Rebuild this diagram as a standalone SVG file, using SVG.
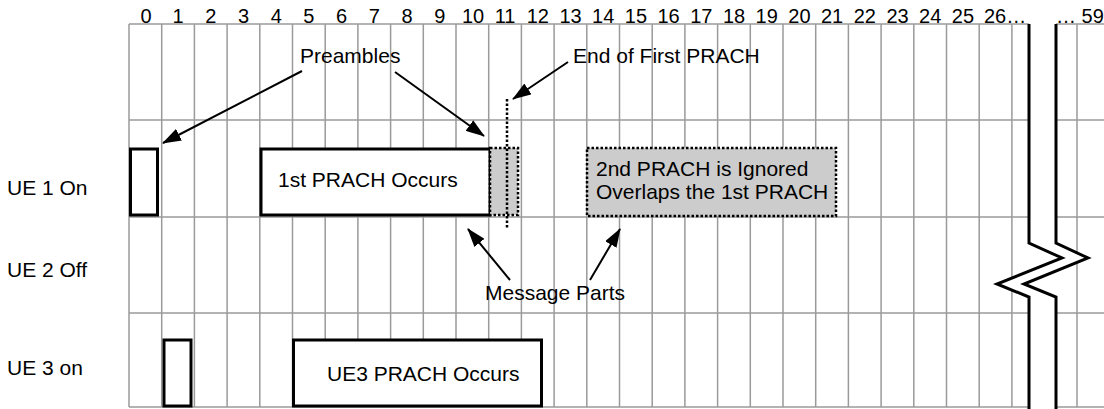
<svg xmlns="http://www.w3.org/2000/svg" width="1104" height="409" viewBox="0 0 1104 409">
<style>
.grid{stroke:#9a9a9a;stroke-width:1.5;fill:none}
.hdr{font-family:"Liberation Sans",Arial,sans-serif;font-size:20px;fill:#000;text-anchor:middle}
.lbl{font-family:"Liberation Sans",Arial,sans-serif;font-size:21px;fill:#000}
.box{fill:#fff;stroke:#000;stroke-width:3}
.shade{fill:#cccccc;stroke:#000;stroke-width:2.5;stroke-dasharray:2.5,2}
.brk{fill:none;stroke:#000;stroke-width:3}
.arr{stroke:#000;stroke-width:2;fill:none;marker-end:url(#ah)}
</style>
<defs>
<marker id="ah" viewBox="0 0 19 13" refX="18" refY="6.5" markerWidth="19" markerHeight="13" markerUnits="userSpaceOnUse" orient="auto">
<path d="M0,0 L19,6.5 L0,13 z" fill="#000"/>
</marker>
</defs>
<rect width="1104" height="409" fill="#fff"/>
<g id="grid">
<path class="grid" d="M129,24V407M161.7,24V407M194.4,24V407M227.1,24V407M259.8,24V407M292.5,24V407M325.2,24V407M357.9,24V407M390.6,24V407M423.3,24V407M456,24V407M488.7,24V407M521.4,24V407M554.1,24V407M586.8,24V407M619.5,24V407M652.2,24V407M684.9,24V407M717.6,24V407M750.3,24V407M783,24V407M815.7,24V407M848.4,24V407M881.1,24V407M913.8,24V407M946.5,24V407M979.2,24V407M1011.9,24V407M1077,24V407"/>
<path class="grid" d="M129,24H1104M129,120H1104M129,217H1104M129,313H1104M129,407H1104"/>
</g>
<g id="header">
<text class="hdr" x="146" y="23">0</text>
<text class="hdr" x="178.1" y="23">1</text>
<text class="hdr" x="210.8" y="23">2</text>
<text class="hdr" x="243.5" y="23">3</text>
<text class="hdr" x="276.2" y="23">4</text>
<text class="hdr" x="308.9" y="23">5</text>
<text class="hdr" x="341.6" y="23">6</text>
<text class="hdr" x="374.3" y="23">7</text>
<text class="hdr" x="407" y="23">8</text>
<text class="hdr" x="439.7" y="23">9</text>
<text class="hdr" x="473" y="23">10</text>
<text class="hdr" x="505.1" y="23">11</text>
<text class="hdr" x="537.8" y="23">12</text>
<text class="hdr" x="570.5" y="23">13</text>
<text class="hdr" x="603.2" y="23">14</text>
<text class="hdr" x="635.9" y="23">15</text>
<text class="hdr" x="668.6" y="23">16</text>
<text class="hdr" x="701.3" y="23">17</text>
<text class="hdr" x="734" y="23">18</text>
<text class="hdr" x="766.7" y="23">19</text>
<text class="hdr" x="799.4" y="23">20</text>
<text class="hdr" x="832.1" y="23">21</text>
<text class="hdr" x="864.8" y="23">22</text>
<text class="hdr" x="897.5" y="23">23</text>
<text class="hdr" x="930.2" y="23">24</text>
<text class="hdr" x="962.9" y="23">25</text>
<text class="hdr" x="984" y="23" style="text-anchor:start">26…</text>
<text class="hdr" x="1056" y="23" style="text-anchor:start">…  59</text>
</g>
<g id="break">
<polygon points="1029,20 1029,243 1062,258 997,284 1029,297 1029,409 1056,409 1056,297 1024,284 1088,258 1056,243 1056,20" fill="#fff"/>
<polyline class="brk" points="1029,24 1029,243 1062,258 997,284 1029,297 1029,409"/>
<polyline class="brk" points="1056,24 1056,243 1088,258 1024,284 1056,297 1056,409"/>
</g>
<g id="ue1-label"><text class="lbl" x="7" y="195">UE 1 On</text></g>
<g id="ue2-label"><text class="lbl" x="7" y="277">UE 2 Off</text></g>
<g id="ue3-label"><text class="lbl" x="7" y="375">UE 3 on</text></g>
<g id="ue1-preamble"><rect class="box" x="130.5" y="149" width="27" height="66"/></g>
<g id="ue1-prach">
<rect class="box" x="261" y="149" width="229" height="66"/>
<text class="lbl" x="278" y="187">1st PRACH Occurs</text>
</g>
<g id="ue1-message"><rect class="shade" x="490" y="148" width="28" height="67"/></g>
<g id="end-marker"><line x1="507" y1="99" x2="507" y2="228" stroke="#000" stroke-width="2.5" stroke-dasharray="2.5,2"/></g>
<g id="ue1-second">
<rect class="shade" x="587" y="148" width="249" height="68"/>
<text class="lbl" x="596" y="176">2nd PRACH is Ignored</text>
<text class="lbl" x="596" y="199">Overlaps the 1st PRACH</text>
</g>
<g id="ue3-preamble"><rect class="box" x="164" y="340" width="27" height="66"/></g>
<g id="ue3-prach">
<rect class="box" x="293.5" y="340" width="248" height="66"/>
<text class="lbl" x="327" y="381">UE3 PRACH Occurs</text>
</g>
<g id="preambles-note"><text class="lbl" x="300" y="63">Preambles</text></g>
<g id="end-note"><text class="lbl" x="573" y="63">End of First PRACH</text></g>
<g id="message-note"><text class="lbl" x="485" y="300">Message Parts</text></g>
<g id="connectors">
<line class="arr" x1="302" y1="71" x2="163" y2="143"/>
<line class="arr" x1="395" y1="72" x2="484" y2="136"/>
<line class="arr" x1="568" y1="62" x2="513" y2="99"/>
<line class="arr" x1="510" y1="280" x2="468" y2="229"/>
<line class="arr" x1="590" y1="280" x2="620" y2="229"/>
</g>
</svg>
